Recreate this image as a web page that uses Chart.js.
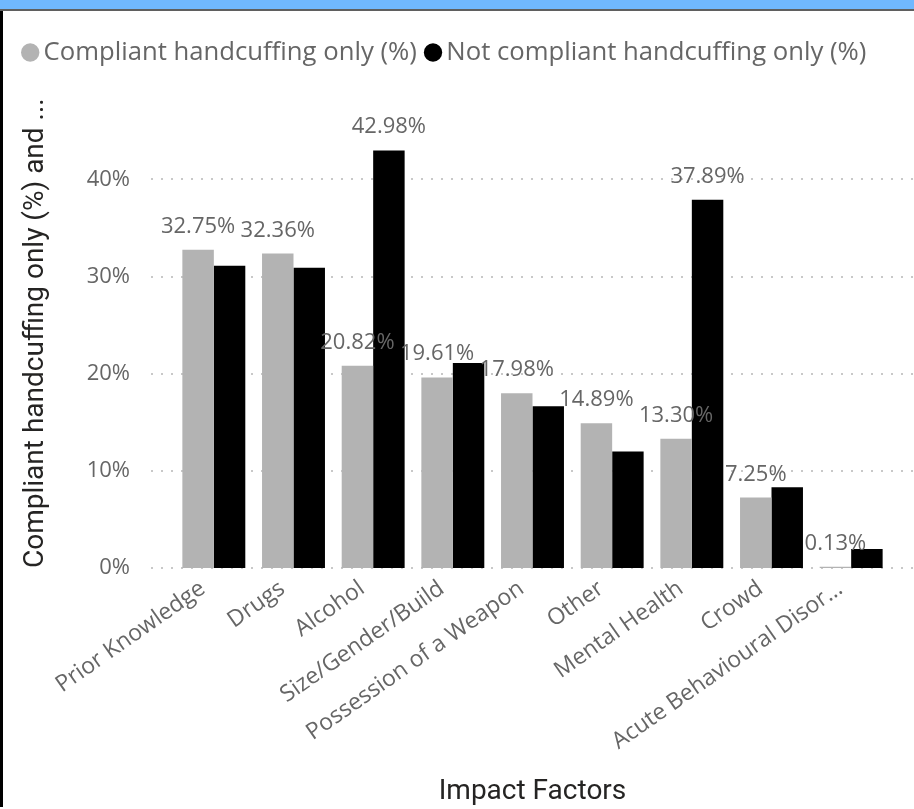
<!DOCTYPE html>
<html><head><meta charset="utf-8">
<script src="https://cdn.jsdelivr.net/npm/chart.js@4.4.1/dist/chart.umd.min.js"></script>
<style>html,body{margin:0;padding:0;background:#fff;overflow:hidden}canvas{display:block}</style>
</head><body>
<canvas id="c" width="914" height="809"></canvas>
<script>
const categories = ["Prior Knowledge","Drugs","Alcohol","Size/Gender/Build","Possession of a Weapon","Other","Mental Health","Crowd","Acute Behavioural Disorder"];
const compliant = [32.75,32.36,20.82,19.61,17.98,14.89,13.30,7.25,0.13];
const notCompliant = [31.1,30.9,42.98,21.1,16.65,12.0,37.89,8.3,1.95];
const yTicks = [0,10,20,30,40];
const seriesNames = ["Compliant handcuffing only (%)","Not compliant handcuffing only (%)"];
const showCompliantLabel = [true,true,true,true,true,true,true,true,true];
const showNotCompliantLabel = [false,false,true,false,false,false,true,false,false];
const yTitle = "Compliant handcuffing only (%) and ...";
const xTitle = "Impact Factors";

const SANS = "'Open Sans', sans-serif";
const DIN = "Roboto, sans-serif";

const framePlugin = {
  id: 'frame',
  afterDraw(chart) {
    const ctx = chart.ctx;
    ctx.save();
    ctx.fillStyle = '#70B8FF';
    ctx.fillRect(0, 0, 914, 9);
    ctx.fillStyle = '#5F5F5F';
    ctx.fillRect(0, 9, 914, 2);
    ctx.fillStyle = '#000';
    ctx.fillRect(0, 11, 3, 796);
    ctx.restore();
  }
};

const gridPlugin = {
  id: 'dotgrid',
  beforeDatasetsDraw(chart) {
    const {ctx, chartArea: a, scales: {y}} = chart;
    ctx.save();
    ctx.fillStyle = '#C8C8C8';
    y.ticks.forEach(t => {
      const py = Math.round(y.getPixelForValue(t.value));
      for (let x = a.left - 23; x <= a.right + 21; x += 10) ctx.fillRect(x, py - 1, 2, 2);
    });
    ctx.restore();
  }
};

const labelPlugin = {
  id: 'barlabels',
  afterDatasetsDraw(chart) {
    const ctx = chart.ctx;
    const shows = [showCompliantLabel, showNotCompliantLabel];
    ctx.save();
    ctx.font = "22px " + SANS;
    ctx.fillStyle = '#666666';
    ctx.textAlign = 'center';
    ctx.textBaseline = 'alphabetic';
    chart.data.datasets.forEach((ds, di) => {
      const meta = chart.getDatasetMeta(di);
      meta.data.forEach((bar, i) => {
        if (!shows[di][i]) return;
        const txt = ds.data[i].toFixed(2) + '%';
        ctx.fillText(txt, bar.x, bar.y - 17);
      });
    });
    ctx.restore();
  }
};

new Chart(document.getElementById('c'), {
  type: 'bar',
  data: {
    labels: categories,
    datasets: [
      {label: seriesNames[0], data: compliant, backgroundColor: '#B3B3B3', categoryPercentage: 0.79, barPercentage: 1.0},
      {label: seriesNames[1], data: notCompliant, backgroundColor: '#000000', categoryPercentage: 0.79, barPercentage: 1.0}
    ]
  },
  options: {
    responsive: false,
    animation: false,
    devicePixelRatio: 1,
    layout: {padding: {left: 14, right: 23, top: 24, bottom: 0}},
    plugins: {
      tooltip: {enabled: false},
      legend: {
        position: 'top', align: 'start',
        labels: {usePointStyle: true, pointStyle: 'circle', boxWidth: 1, boxHeight: 13, padding: 15.7,
          color: '#666666', font: {family: SANS, size: 25.7}}
      }
    },
    scales: {
      x: {
        grid: {display: false, drawTicks: false},
        border: {display: false},
        afterFit: s => { s.height = 241; },
        ticks: {autoSkip: false, minRotation: 35, maxRotation: 35, padding: 7, labelOffset: -11, color: '#666666',
          font: {family: SANS, size: 23},
          callback: (v, i) => { const l = categories[i]; return l.length > 23 ? l.slice(0, 23) + '…' : l; }},
        title: {display: true, text: xTitle, color: '#252423', font: {family: DIN, size: 28}, padding: {top: 0, bottom: 0}}
      },
      y: {
        min: 0, max: 50.7,
        grid: {display: false, drawTicks: false},
        border: {display: false},
        afterFit: s => { s.width = 160; },
        afterBuildTicks: s => { s.ticks = yTicks.map(v => ({value: v})); },
        ticks: {padding: 44, color: '#666666', font: {family: SANS, size: 22}, callback: v => v + '%'},
        title: {display: true, align: 'start', text: yTitle, color: '#252423', font: {family: DIN, size: 28}, padding: {top: 5, bottom: 0}}
      }
    }
  },
  plugins: [gridPlugin, labelPlugin, framePlugin]
});
</script>
</body></html>
